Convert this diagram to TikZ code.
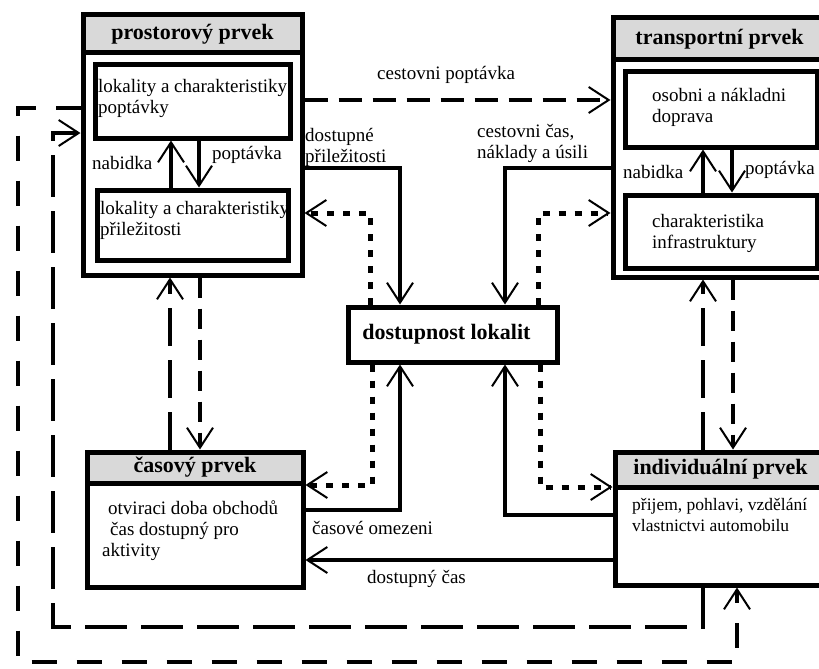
\documentclass[tikz,border=0pt]{standalone}
\usepackage{fontspec}
\setmainfont{Liberation Serif}
\usetikzlibrary{arrows.meta}
\definecolor{hdr}{RGB}{217,217,217}
\begin{document}
\begin{tikzpicture}[x=1pt,y=-1pt,
  box/.style={draw, line width=5pt, rectangle, inner sep=0pt, fill=white},
  hbox/.style={draw, line width=5pt, rectangle, inner sep=0pt, fill=hdr, font=\fontsize{22}{24}\selectfont\bfseries},
  txt/.style={inner sep=0pt, anchor=west, align=left, font=\fontsize{19}{21}\selectfont},
  conn/.style={line width=4pt},
  arr/.style={-{Straight Barb[length=20pt,width=26pt,line width=2pt]}},
  dashA/.style={dash pattern=on 23pt off 11pt},
  dashOuter/.style={dash pattern=on 25pt off 20pt},
  dashInner/.style={dash pattern=on 42pt off 14pt},
  dashLong/.style={dash pattern=on 38pt off 14pt},
  dashShort/.style={dash pattern=on 20pt off 11pt},
  dotsq/.style={line width=5pt, dash pattern=on 7pt off 9pt}
]
\clip (0,0) rectangle (819,669);
\fill[white] (0,0) rectangle (819,669);

% prostorovy prvek
\node[box, minimum width=219pt, minimum height=260pt] (P) at (192.5,145) {};
\node[hbox, minimum width=219pt, minimum height=38pt] (Ph) at (192.5,34) {prostorový prvek};
\node[box, minimum width=195pt, minimum height=73pt] (P1) at (192.5,101.5) {};
\node[box, minimum width=191pt, minimum height=70pt] (P2) at (192.5,225) {};
\node[txt] (P1t) at (98,98) {lokality a charakteristiky\\poptávky};
\node[txt] (P2t) at (100,220) {lokality a charakteristiky\\přiležitosti};

% transportni prvek
\node[box, minimum width=213pt, minimum height=259pt] (T) at (719.5,147.5) {};
\node[hbox, minimum width=213pt, minimum height=42pt] (Th) at (719.5,39) {transportní prvek};
\node[box, minimum width=192pt, minimum height=75pt] (T1) at (721,109.5) {};
\node[box, minimum width=192pt, minimum height=73pt] (T2) at (721,231.5) {};
\node[txt] (T1t) at (652,107.5) {osobni a nákladni\\doprava};
\node[txt] (T2t) at (652,233.5) {charakteristika\\infrastruktury};

% dostupnost lokalit
\node[box, minimum width=209pt, minimum height=55pt, font=\fontsize{22}{24}\selectfont\bfseries] (D) at (452.5,334.5) {\hspace*{-12pt}dostupnost lokalit};

% casovy prvek
\node[box, minimum width=216pt, minimum height=135pt] (C) at (195,519.5) {};
\node[hbox, minimum width=216pt, minimum height=31pt] (Ch) at (195,467.5) {časový prvek};
\node[txt] (Ct) at (102,530.5) {\hspace*{6pt}otviraci doba obchodů\\\hspace*{8pt}čas dostupný pro\\aktivity};

% individualni prvek
\node[box, minimum width=211pt, minimum height=133pt] (I) at (720.5,518.5) {};
\node[hbox, minimum width=211pt, minimum height=35pt] (Ih) at (720.5,469.5) {individuální prvek};
\node[txt, font=\fontsize{17.5}{21}\selectfont] (It) at (632,514.5) {přijem, pohlavi, vzdělání\\vlastnictvi automobilu};

% corner coordinates of the loops
\coordinate (lo1) at (18,662);
\coordinate (li1) at (53,627);

% inner arrows
\draw[conn, arr] (P2.north -| 171,0) -- (P1.south -| 171,0);
\draw[conn, arr] (P1.south -| 199,0) -- (P2.north -| 199,0);
\draw[conn, arr] (T2.north -| 703,0) -- (T1.south -| 703,0);
\draw[conn, arr] (T1.south -| 732,0) -- (T2.north -| 732,0);

% connectors
\draw[conn, dashA, arr] (P.east |- 0,100) -- (T.west |- 0,100);
\draw[conn, dashOuter, arr] (P.west |- 0,108) -| (lo1) -| (I.south -| 737,0);
\draw[conn, dashInner, arr] (I.south -| 703,0) |- (li1) |- (P.west |- 0,133);
\draw[conn, arr] (P.east |- 0,168) -| (D.north -| 400,0);
\draw[conn, dotsq, arr] (D.north -| 370,0) |- (P.east |- 0,213);
\draw[conn, arr] (T.west |- 0,168) -| (D.north -| 505,0);
\draw[conn, dotsq, arr] (D.north -| 538,0) |- (T.west |- 0,213);
\draw[conn, dotsq, arr] (D.south -| 372,0) |- (C.east |- 0,485);
\draw[conn, arr] (C.east |- 0,510) -| (D.south -| 400,0);
\draw[conn, arr] (I.west |- 0,515) -| (D.south -| 505,0);
\draw[conn, dotsq, arr] (D.south -| 540,0) |- (I.west |- 0,487);
\draw[conn, arr] (I.west |- 0,560) -- (C.east |- 0,560);
\draw[conn, dashLong, arr] (I.north -| 703,0) -- (T.south -| 703,0);
\draw[conn, dashShort, arr] (T.south -| 733,0) -- (I.north -| 733,0);
\draw[conn, dashLong, arr] (C.north -| 170,0) -- (P.south -| 170,0);
\draw[conn, dashShort, arr] (P.south -| 200,0) -- (C.north -| 200,0);

% labels
\node[txt] (l1) at (92,163) {nabidka};
\node[txt] (l2) at (212,155) {poptávka};
\node[txt] (l3) at (305,147) {dostupné\\přiležitosti};
\node[txt] (l4) at (377,75) {cestovni poptávka};
\node[txt] (l5) at (477,143) {cestovni čas,\\náklady a úsili};
\node[txt] (l6) at (623,172) {nabidka};
\node[txt] (l7) at (745,170) {poptávka};
\node[txt] (l8) at (312,528) {časové omezeni};
\node[txt] (l9) at (367,579) {dostupný čas};
\end{tikzpicture}
\end{document}
